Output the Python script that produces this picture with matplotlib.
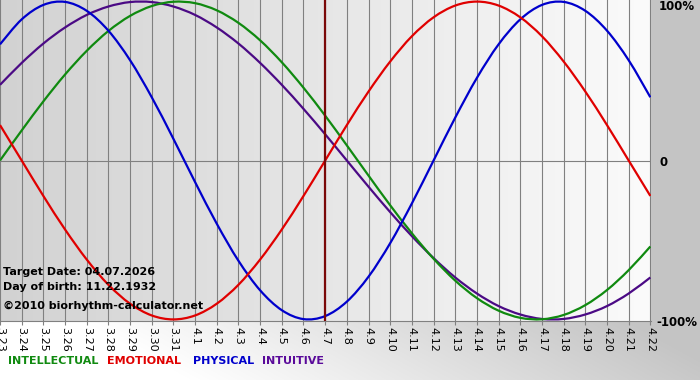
import numpy as np
import matplotlib
matplotlib.use('Agg')
import matplotlib.pyplot as plt
from matplotlib.colors import LinearSegmentedColormap
from matplotlib.path import Path
from matplotlib.patches import PathPatch

# day labels (month.day) from 3/23 to 4/22
dates = ['3.23', '3.24', '3.25', '3.26', '3.27', '3.28', '3.29', '3.30', '3.31',
         '4.1', '4.2', '4.3', '4.4', '4.5', '4.6', '4.7', '4.8', '4.9', '4.10',
         '4.11', '4.12', '4.13', '4.14', '4.15', '4.16', '4.17', '4.18', '4.19',
         '4.20', '4.21', '4.22']

# cycle values per day, -1 .. 1
intellectual = [0.000, 0.189, 0.372, 0.541, 0.690, 0.815, 0.910, 0.972, 0.999,
                0.990, 0.945, 0.866, 0.756, 0.618, 0.458, 0.282, 0.095, -0.095,
                -0.282, -0.458, -0.618, -0.756, -0.866, -0.945, -0.990, -0.999,
                -0.972, -0.910, -0.815, -0.690, -0.541]
emotional = [0.223, 0.000, -0.223, -0.434, -0.623, -0.782, -0.901, -0.975,
             -1.000, -0.975, -0.901, -0.782, -0.623, -0.434, -0.223, 0.000,
             0.223, 0.434, 0.623, 0.782, 0.901, 0.975, 1.000, 0.975, 0.901,
             0.782, 0.623, 0.434, 0.223, 0.000, -0.223]
physical = [0.731, 0.888, 0.979, 0.998, 0.942, 0.817, 0.631, 0.398, 0.136,
            -0.136, -0.398, -0.631, -0.817, -0.942, -0.998, -0.979, -0.888,
            -0.731, -0.520, -0.270, 0.000, 0.270, 0.520, 0.731, 0.888, 0.979,
            0.998, 0.942, 0.817, 0.631, 0.398]
intuitive = [0.476, 0.614, 0.736, 0.837, 0.916, 0.969, 0.997, 0.997, 0.969,
             0.916, 0.837, 0.736, 0.614, 0.476, 0.325, 0.165, 0.000, -0.165,
             -0.325, -0.476, -0.614, -0.736, -0.837, -0.916, -0.969, -0.997,
             -0.997, -0.969, -0.916, -0.837, -0.736]

target_day = '4.7'
target_date = '04.07.2026'
birth_date = '11.22.1932'

W, H = 700, 380
GREEN = '#108a10'
RED = '#e00000'
BLUE = '#0000cc'
PURPLE = '#4b0a85'
GRID = '#808080'


def px(x, y):
    # pixel position -> figure fraction
    return x / W, 1 - y / H


def smooth_line(ax, values, color, z):
    # draw the daily values as a smooth bezier curve (catmull-rom style)
    pts = np.column_stack([np.arange(len(values)), values]).astype(float)
    ext = np.vstack([pts[0], pts, pts[-1]])
    verts = [pts[0]]
    codes = [Path.MOVETO]
    for i in range(len(pts) - 1):
        p0, p1, p2, p3 = ext[i], ext[i + 1], ext[i + 2], ext[i + 3]
        verts += [p1 + (p2 - p0) / 6, p2 - (p3 - p1) / 6, p2]
        codes += [Path.CURVE4] * 3
    patch = PathPatch(Path(verts, codes), fill=False, edgecolor=color,
                      lw=1.6, zorder=z, transform=ax.transData)
    ax.add_patch(patch)


fig = plt.figure(figsize=(W / 100, H / 100), dpi=100)

# page background: light at bottom-left, grey on the right
bg = fig.add_axes([0, 0, 1, 1], zorder=-5)
xx, yy = np.meshgrid(np.arange(W), np.arange(H))
t = np.clip((xx - 100) / 550 + (330 - yy) / 300, 0, 1)
shade = 1 - t * (1 - 0xc4 / 255)
bg.imshow(np.dstack([shade] * 3), aspect='auto', interpolation='bilinear')
bg.axis('off')

ax = fig.add_axes([0, 59 / H, 651 / W, 321 / H])
n = len(dates)
x = np.arange(n)

grad = LinearSegmentedColormap.from_list('bg', ['#d2d2d2', '#fbfbfb'])
ax.imshow(np.linspace(0, 1, 256).reshape(1, -1), cmap=grad, aspect='auto',
          extent=[0, n - 1 + 0.03, -1.01, 1.01], zorder=0)

ax.axhline(0, color=GRID, lw=0.8, zorder=1)
ax.axvline(dates.index(target_day), color='#7a0808', lw=1.6, zorder=5)

smooth_line(ax, intuitive, PURPLE, 3)
smooth_line(ax, intellectual, GREEN, 3)
smooth_line(ax, physical, BLUE, 3)
smooth_line(ax, emotional, RED, 4)

ax.set_xlim(0, n - 1 + 0.03)
ax.set_ylim(-1.01, 1.01)
ax.set_xticks(x)
ax.set_xticklabels(dates, rotation=-90, fontsize=8, color='black')
ax.set_yticks([])
ax.grid(axis='x', color=GRID, lw=0.8, zorder=1)
ax.set_axisbelow(False)
ax.tick_params(axis='x', length=3, width=0.8, color=GRID, pad=1)
for side in ['top', 'left', 'right']:
    ax.spines[side].set_visible(False)
ax.spines['bottom'].set_color(GRID)
ax.spines['bottom'].set_linewidth(0.8)
for lbl in ax.get_xticklabels():
    lbl.set_va('top')

# right-hand scale labels
fig.text(*px(659, 7), '100%', fontsize=8.5, fontweight='bold', va='center')
fig.text(*px(659, 162), '0', fontsize=8.5, fontweight='bold', va='center')
fig.text(*px(656, 322), '-100%', fontsize=8.5, fontweight='bold', va='center')

# info text inside the chart
fig.text(*px(3, 272), 'Target Date: ' + target_date, fontsize=8,
         fontweight='bold', va='center')
fig.text(*px(3, 287), 'Day of birth: ' + birth_date, fontsize=8,
         fontweight='bold', va='center')
fig.text(*px(3, 306), '\u00a92010 biorhythm-calculator.net', fontsize=8,
         fontweight='bold', va='center')

# legend row
fig.text(*px(8, 361), 'INTELLECTUAL', color=GREEN, fontsize=8,
         fontweight='bold', va='center')
fig.text(*px(107, 361), 'EMOTIONAL', color=RED, fontsize=8,
         fontweight='bold', va='center')
fig.text(*px(193, 361), 'PHYSICAL', color=BLUE, fontsize=8,
         fontweight='bold', va='center')
fig.text(*px(262, 361), 'INTUITIVE', color='#5a0a9a', fontsize=8,
         fontweight='bold', va='center')

fig.savefig('out.png', dpi=100)
